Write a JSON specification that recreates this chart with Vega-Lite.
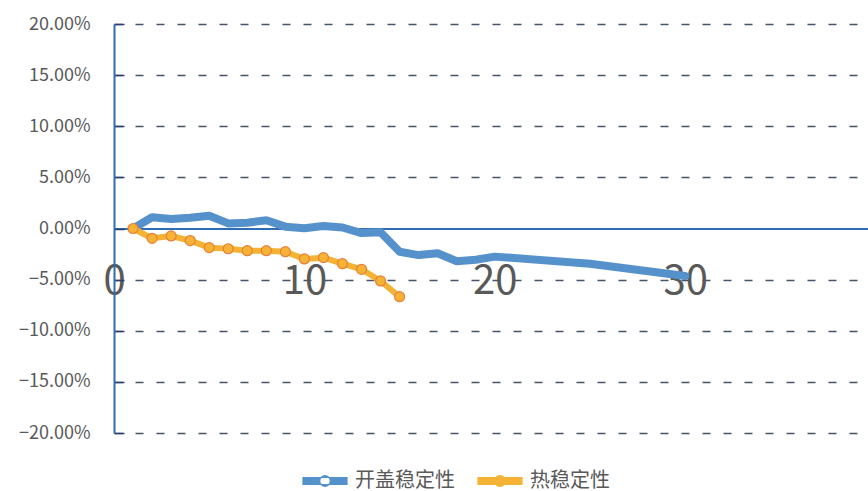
{
  "$schema": "https://vega.github.io/schema/vega-lite/v6.json",
  "width": 754,
  "height": 409,
  "autosize": {"type": "none"},
  "padding": {"left": 114, "top": 24, "right": 0, "bottom": 58},
  "background": "white",
  "config": {"view": {"stroke": null}, "font": "Noto Sans CJK SC"},
  "data": {
    "values": [
      {"series": "开盖稳定性", "x": 1, "y": 0},
      {"series": "开盖稳定性", "x": 2, "y": 0.011},
      {"series": "开盖稳定性", "x": 3, "y": 0.0093},
      {"series": "开盖稳定性", "x": 4, "y": 0.0106},
      {"series": "开盖稳定性", "x": 5, "y": 0.0125},
      {"series": "开盖稳定性", "x": 6, "y": 0.005},
      {"series": "开盖稳定性", "x": 7, "y": 0.0057},
      {"series": "开盖稳定性", "x": 8, "y": 0.008},
      {"series": "开盖稳定性", "x": 9, "y": 0.0018},
      {"series": "开盖稳定性", "x": 10, "y": 0.0002},
      {"series": "开盖稳定性", "x": 11, "y": 0.0025},
      {"series": "开盖稳定性", "x": 12, "y": 0.001},
      {"series": "开盖稳定性", "x": 13, "y": -0.0045},
      {"series": "开盖稳定性", "x": 14, "y": -0.0037},
      {"series": "开盖稳定性", "x": 15, "y": -0.0227},
      {"series": "开盖稳定性", "x": 16, "y": -0.026},
      {"series": "开盖稳定性", "x": 17, "y": -0.0242},
      {"series": "开盖稳定性", "x": 18, "y": -0.032},
      {"series": "开盖稳定性", "x": 19, "y": -0.0305},
      {"series": "开盖稳定性", "x": 20, "y": -0.0275},
      {"series": "开盖稳定性", "x": 25, "y": -0.0345},
      {"series": "开盖稳定性", "x": 30, "y": -0.0465},
      {"series": "热稳定性", "x": 1, "y": 0},
      {"series": "热稳定性", "x": 2, "y": -0.0096},
      {"series": "热稳定性", "x": 3, "y": -0.0073},
      {"series": "热稳定性", "x": 4, "y": -0.0118},
      {"series": "热稳定性", "x": 5, "y": -0.0187},
      {"series": "热稳定性", "x": 6, "y": -0.0198},
      {"series": "热稳定性", "x": 7, "y": -0.0217},
      {"series": "热稳定性", "x": 8, "y": -0.0217},
      {"series": "热稳定性", "x": 9, "y": -0.0227},
      {"series": "热稳定性", "x": 10, "y": -0.0298},
      {"series": "热稳定性", "x": 11, "y": -0.0285},
      {"series": "热稳定性", "x": 12, "y": -0.0344},
      {"series": "热稳定性", "x": 13, "y": -0.0399},
      {"series": "热稳定性", "x": 14, "y": -0.0513},
      {"series": "热稳定性", "x": 15, "y": -0.0667}
    ]
  },
  "layer": [
    {
      "transform": [{"filter": "datum.series === '开盖稳定性'"}],
      "mark": {"type": "line", "strokeWidth": 8, "strokeJoin": "round", "strokeCap": "round"},
      "encoding": {
        "x": {
          "field": "x", "type": "quantitative",
          "scale": {"domain": [0, 39.6], "nice": false, "zero": false},
          "axis": {
            "title": null, "values": [0, 10, 20, 30], "format": "d",
            "labelFontSize": 40, "labelColor": "#595959", "labelFont": "Noto Sans CJK SC",
            "labelPadding": 32.5, "labelFlush": false, "labelBaseline": "top",
            "offset": -204.5, "ticks": false, "grid": false,
            "domainColor": "#2E6DB4", "domainWidth": 2
          }
        },
        "y": {
          "field": "y", "type": "quantitative",
          "scale": {"domain": [-0.2, 0.2], "nice": false, "zero": false},
          "axis": {
            "title": null,
            "values": [-0.2, -0.15, -0.1, -0.05, 0, 0.05, 0.1, 0.15, 0.2],
            "format": ".2%",
            "labelFontSize": 18, "labelColor": "#595959", "labelFont": "Noto Sans CJK SC",
            "labelPadding": 34,
            "domainColor": "#2E6DB4", "domainWidth": 2,
            "ticks": true, "tickSize": -10, "tickColor": "#2F3F6E", "tickWidth": 1.5,
            "grid": true,
            "gridColor": {"condition": {"test": "datum.value === 0", "value": "transparent"}, "value": "#44546A"},
            "gridDash": [8, 13], "gridWidth": 1.4
          }
        },
        "color": {
          "field": "series", "type": "nominal",
          "scale": {"domain": ["开盖稳定性", "热稳定性"], "range": ["#5592CB", "#F5B335"]},
          "legend": {
            "title": null, "orient": "none", "legendX": 188, "legendY": 434,
            "direction": "horizontal",
            "symbolType": "M-1,-0.16H1V0.16H-1Z M-0.24,0A0.24,0.24 0 1,1 0.24,0A0.24,0.24 0 1,1 -0.24,0Z",
            "symbolSize": 1936, "symbolStrokeWidth": 1.2,
            "labelFontSize": 20, "labelColor": "#595959", "labelFont": "Noto Sans CJK SC",
            "labelOffset": 7, "columnPadding": 20, "padding": 0,
            "encode": {
              "symbols": {
                "update": {
                  "shape": {"signal": "datum.value === '开盖稳定性' ? 'M-1,-0.16H1V0.16H-1Z M-0.24,0A0.24,0.24 0 1,0 0.24,0A0.24,0.24 0 1,0 -0.24,0Z' : 'M-1,-0.16H1V0.16H-1Z M-0.24,0A0.24,0.24 0 1,1 0.24,0A0.24,0.24 0 1,1 -0.24,0Z'"},
                  "fill": {"signal": "datum.value === '开盖稳定性' ? '#5592CB' : '#F5B335'"},
                  "stroke": {"signal": "datum.value === '开盖稳定性' ? '#3F7DB8' : '#E97F3A'"},
                  "opacity": {"value": 1},
                  "fillOpacity": {"value": 1}
                }
              }
            }
          }
        }
      }
    },
    {
      "transform": [{"filter": "datum.series === '热稳定性'"}],
      "mark": {"type": "line", "strokeWidth": 6, "strokeJoin": "round", "strokeCap": "round"},
      "encoding": {
        "x": {"field": "x", "type": "quantitative"},
        "y": {"field": "y", "type": "quantitative"},
        "color": {"field": "series", "type": "nominal"}
      }
    },
    {
      "transform": [{"filter": "datum.series === '热稳定性'"}],
      "mark": {"type": "point", "shape": "circle", "filled": true, "size": 100, "fill": "#F5B335", "stroke": "#E97F3A", "strokeWidth": 1.2, "opacity": 1},
      "encoding": {
        "x": {"field": "x", "type": "quantitative"},
        "y": {"field": "y", "type": "quantitative"}
      }
    }
  ]
}
